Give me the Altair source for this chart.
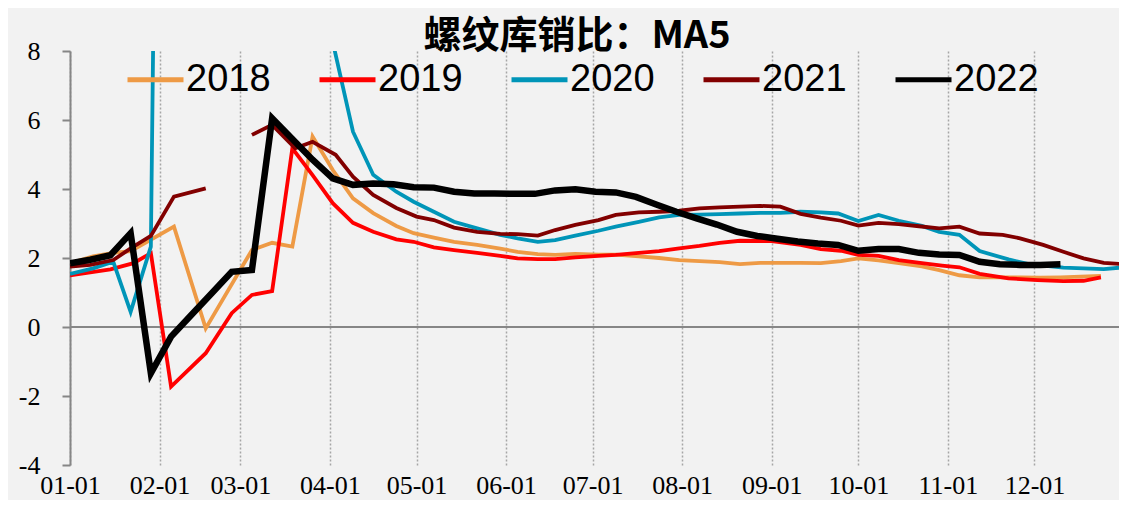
import altair as alt
import pandas as pd

years = ["2018", "2019", "2020", "2021", "2022"]
colors = ["#EE9A45", "#FF0000", "#0095B8", "#820000", "#000000"]

month_days = [0, 31, 59, 90, 120, 151, 181, 212, 243, 273, 304, 334, 365]
month_labels = ["01-01", "02-01", "03-01", "04-01", "05-01", "06-01", "07-01",
                "08-01", "09-01", "10-01", "11-01", "12-01", ""]

d18 = [0, 8, 15, 21, 36, 47, 63, 70, 77, 84, 91, 98, 105, 113, 119, 126, 133, 141, 149, 155,
       162, 168, 175, 183, 189, 197, 204, 211, 218, 225, 232, 239, 246, 253, 260, 267, 273, 280,
       287, 295, 301, 308, 315, 322, 329, 336, 343, 350, 357]
v18 = [1.85, 2.05, 2.15, 2.2, 2.91, -0.04, 2.23, 2.44, 2.33, 5.52, 4.55, 3.73, 3.3, 2.93, 2.72,
       2.59, 2.47, 2.38, 2.27, 2.18, 2.11, 2.09, 2.12, 2.1, 2.1, 2.05, 2.0, 1.94, 1.91, 1.88, 1.82,
       1.86, 1.86, 1.86, 1.85, 1.91, 1.99, 1.93, 1.85, 1.76, 1.65, 1.5, 1.44, 1.44, 1.44, 1.43,
       1.44, 1.46, 1.48]

d19 = [0, 7, 14, 22, 28, 35, 47, 56, 63, 70, 77, 84, 91, 98, 105, 113, 119, 126, 133, 141, 149,
       155, 162, 168, 175, 183, 189, 197, 204, 211, 218, 225, 232, 243, 253, 260, 267, 273, 280,
       287, 295, 302, 308, 315, 325, 335, 344, 351, 357]
v19 = [1.5, 1.58, 1.67, 1.85, 2.14, -1.73, -0.76, 0.4, 0.93, 1.04, 5.18, 4.4, 3.59, 3.02, 2.76,
       2.54, 2.47, 2.31, 2.23, 2.15, 2.06, 1.99, 1.97, 1.97, 2.02, 2.06, 2.09, 2.15, 2.2, 2.28,
       2.35, 2.44, 2.5, 2.49, 2.38, 2.26, 2.21, 2.09, 2.06, 1.94, 1.85, 1.78, 1.73, 1.54, 1.41,
       1.36, 1.33, 1.34, 1.44]

d20 = [0, 8, 15, 21, 28, 35, 42, 49, 56, 63, 70, 77, 84, 91, 98, 105, 113, 119, 126, 133, 141,
       149, 155, 162, 168, 175, 183, 189, 197, 204, 211, 218, 225, 232, 239, 246, 253, 260, 266,
       273, 280, 287, 295, 301, 308, 315, 325, 332, 344, 351, 358, 365]
v20 = [1.54, 1.7, 1.89, 0.44, 2.33, 54, 60, 50, 38, 28, 20, 14, 10.8, 8.26, 5.66, 4.41, 3.92,
       3.63, 3.34, 3.05, 2.86, 2.67, 2.57, 2.47, 2.52, 2.65, 2.79, 2.91, 3.05, 3.18, 3.25, 3.26,
       3.27, 3.29, 3.31, 3.31, 3.34, 3.32, 3.29, 3.07, 3.25, 3.08, 2.93, 2.76, 2.67, 2.2, 1.96,
       1.82, 1.72, 1.7, 1.68, 1.73]

d21a = [0, 7, 15, 21, 28, 36, 47]
v21a = [1.75, 1.8, 1.94, 2.28, 2.64, 3.78, 4.02]
d21b = [63, 70, 78, 84, 92, 98, 105, 113, 120, 126, 133, 141, 149, 155, 162, 168, 175, 183, 189,
        197, 204, 211, 218, 225, 232, 239, 246, 253, 260, 267, 273, 280, 287, 294, 301, 308, 315,
        323, 329, 337, 344, 351, 358, 365]
v21b = [5.57, 5.86, 5.18, 5.37, 4.99, 4.36, 3.83, 3.45, 3.2, 3.1, 2.88, 2.76, 2.7, 2.69, 2.65,
        2.81, 2.96, 3.1, 3.25, 3.32, 3.34, 3.37, 3.44, 3.47, 3.49, 3.51, 3.49, 3.28, 3.17, 3.08,
        2.94, 3.02, 2.98, 2.92, 2.86, 2.91, 2.71, 2.67, 2.57, 2.38, 2.18, 1.99, 1.86, 1.82]

d22 = list(range(0, 350, 7))
v22 = [1.85, 1.95, 2.08, 2.72, -1.34, -0.28, 0.35, 0.97, 1.6, 1.65, 6.05, 5.45, 4.85, 4.31, 4.12,
       4.16, 4.14, 4.05, 4.04, 3.92, 3.87, 3.87, 3.86, 3.86, 3.96, 3.99, 3.92, 3.9, 3.77, 3.55,
       3.34, 3.15, 2.97, 2.76, 2.64, 2.56, 2.48, 2.42, 2.38, 2.21, 2.26, 2.26, 2.15, 2.1, 2.09,
       1.89, 1.82, 1.8, 1.8, 1.82]

series = [
    ("2018", "a", d18, v18),
    ("2019", "a", d19, v19),
    ("2020", "a", d20, v20),
    ("2021", "a", d21a, v21a),
    ("2021", "b", d21b, v21b),
    ("2022", "a", d22, v22),
]
rows = []
for yr, seg, ds, vs in series:
    for d, v in zip(ds, vs):
        rows.append({"year": yr, "seg": yr + seg, "day": d, "value": v})
df = pd.DataFrame(rows)

label_expr = "[{}][indexof([{}], datum.value)]".format(
    ",".join("'" + s + "'" for s in month_labels), ",".join(str(d) for d in month_days))

x_enc = alt.X("day:Q",
              scale=alt.Scale(domain=[0, 365], nice=False, zero=False),
              axis=alt.Axis(values=month_days, labelExpr=label_expr, grid=True,
                            gridDash=[2, 2], gridColor="#A6A6A6", gridWidth=1.5,
                            domain=False, ticks=False, tickSize=0,
                            labelFont="Liberation Serif", labelFontSize=26,
                            labelColor="black", labelPadding=7, title=None,
                            labelFlush=False, labelOverlap=False, labelBound=False))
y_enc = alt.Y("value:Q",
              scale=alt.Scale(domain=[-4, 8], nice=False, zero=False),
              axis=alt.Axis(values=[-4, -2, 0, 2, 4, 6, 8], labelExpr="'' + datum.value",
                            domainColor="#868686", domainWidth=2, tickColor="#868686",
                            tickWidth=2, tickSize=8, labelFont="Liberation Serif",
                            labelFontSize=26, labelColor="black", labelPadding=22,
                            grid=False, title=None))

zero = alt.Chart(pd.DataFrame({"value": [0]})).mark_rule(
    color="#868686", strokeWidth=2).encode(y=y_enc)

lines = alt.Chart(df).mark_line(clip=True).encode(
    x=x_enc,
    y=y_enc,
    color=alt.Color("year:N",
                    scale=alt.Scale(domain=years, range=colors),
                    legend=alt.Legend(orient="none", legendX=55, legendY=-2,
                                      direction="horizontal", title=None,
                                      symbolType="stroke", symbolSize=3136,
                                      symbolStrokeWidth=5, labelFont="Liberation Sans",
                                      labelFontSize=38, labelColor="black",
                                      columnPadding=38, labelOffset=0, padding=0)),
    detail="seg:N",
    strokeWidth=alt.condition(alt.datum.year == "2022", alt.value(6.5), alt.value(3.8)),
)

chart = alt.layer(zero, lines).properties(
    width=1054, height=414,
    autosize=alt.AutoSizeParams(type="none"),
    padding={"left": 62, "top": 43, "right": -5, "bottom": 35},
    title=alt.Title("螺纹库销比：MA5", font="Noto Sans CJK SC", fontSize=38,
                    fontWeight="bold", color="black", anchor="middle", dx=-20, dy=22),
    background="#F2F2F2",
).configure_view(stroke=None)

chart.save("out.html", embed_options={"renderer": "svg", "actions": False})
